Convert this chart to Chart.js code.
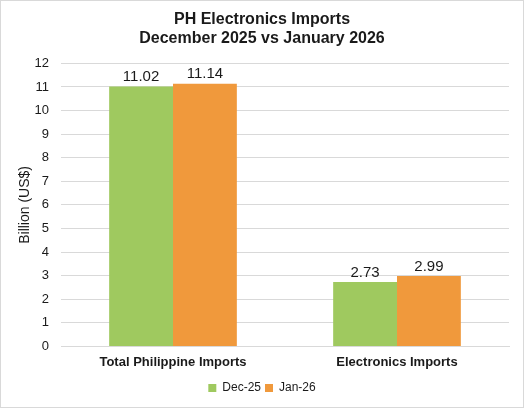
<!DOCTYPE html>
<html>
<head>
<meta charset="utf-8">
<script src="https://cdn.jsdelivr.net/npm/chart.js@4"></script>
<style>
  html, body { margin: 0; padding: 0; background: #fff; }
  #wrap {
    position: relative;
    width: 522px;
    height: 406px;
    border: 1px solid #d9d9d9;
    background: #fff;
  }
</style>
</head>
<body>
<div id="wrap"><canvas id="importsChart"></canvas></div>
<script>
const categories = ['Total Philippine Imports', 'Electronics Imports'];
const seriesNames = ['Dec-25', 'Jan-26'];
const dec25Values = [11.02, 2.73];
const jan26Values = [11.14, 2.99];
const yTicks = [0, 1, 2, 3, 4, 5, 6, 7, 8, 9, 10, 11, 12];

// simple value labels above each bar
const barLabels = {
    id: 'barLabels',
    afterDatasetsDraw(chart) {
        const ctx = chart.ctx;
        ctx.save();
        ctx.font = '15px "Liberation Sans", Arial, sans-serif';
        ctx.fillStyle = '#1a1a1a';
        ctx.textAlign = 'center';
        ctx.textBaseline = 'bottom';
        chart.data.datasets.forEach((ds, i) => {
            chart.getDatasetMeta(i).data.forEach((bar, j) => {
                ctx.fillText(ds.data[j].toFixed(2), bar.x, bar.y - 2);
            });
        });
        ctx.restore();
    }
};

const ctx = document.getElementById('importsChart').getContext('2d');
new Chart(ctx, {
    type: 'bar',
    data: {
        labels: categories,
        datasets: [
            {
                label: seriesNames[0],
                data: dec25Values,
                backgroundColor: '#9FC95F'
            },
            {
                label: seriesNames[1],
                data: jan26Values,
                backgroundColor: '#F0993C'
            }
        ]
    },
    options: {
        responsive: true,
        maintainAspectRatio: false,
        animation: false,
        layout: {
            padding: { left: 14, right: 14, top: 4, bottom: 3 }
        },
        datasets: {
            bar: { categoryPercentage: 0.57, barPercentage: 1 }
        },
        scales: {
            x: {
                grid: { display: false, drawTicks: false },
                border: { color: '#d9d9d9' },
                ticks: {
                    color: '#1a1a1a',
                    padding: 8,
                    font: { family: '"Liberation Sans", Arial, sans-serif', size: 13, weight: 'bold' }
                }
            },
            y: {
                min: 0,
                max: 12,
                afterBuildTicks: (axis) => {
                    axis.ticks = yTicks.map(v => ({ value: v }));
                },
                afterFit: (axis) => {
                    axis.width = 46;
                },
                grid: { color: '#d9d9d9', drawTicks: false },
                border: { display: false },
                ticks: {
                    color: '#1a1a1a',
                    padding: 12,
                    font: { family: '"Liberation Sans", Arial, sans-serif', size: 13 }
                },
                title: {
                    display: true,
                    text: 'Billion (US$)',
                    color: '#1a1a1a',
                    padding: { top: 2, bottom: 2 },
                    font: { family: '"Liberation Sans", Arial, sans-serif', size: 14 }
                }
            }
        },
        plugins: {
            title: {
                display: true,
                text: ['PH Electronics Imports', 'December 2025 vs January 2026'],
                color: '#1a1a1a',
                padding: { top: 5, bottom: 15 },
                font: { family: '"Liberation Sans", Arial, sans-serif', size: 16, weight: 'bold', lineHeight: 1.2 }
            },
            legend: {
                position: 'bottom',
                labels: {
                    color: '#1a1a1a',
                    boxWidth: 8,
                    boxHeight: 8,
                    padding: 4,
                    font: { family: '"Liberation Sans", Arial, sans-serif', size: 12 }
                }
            },
            tooltip: { enabled: false }
        }
    },
    plugins: [barLabels]
});
</script>
</body>
</html>
